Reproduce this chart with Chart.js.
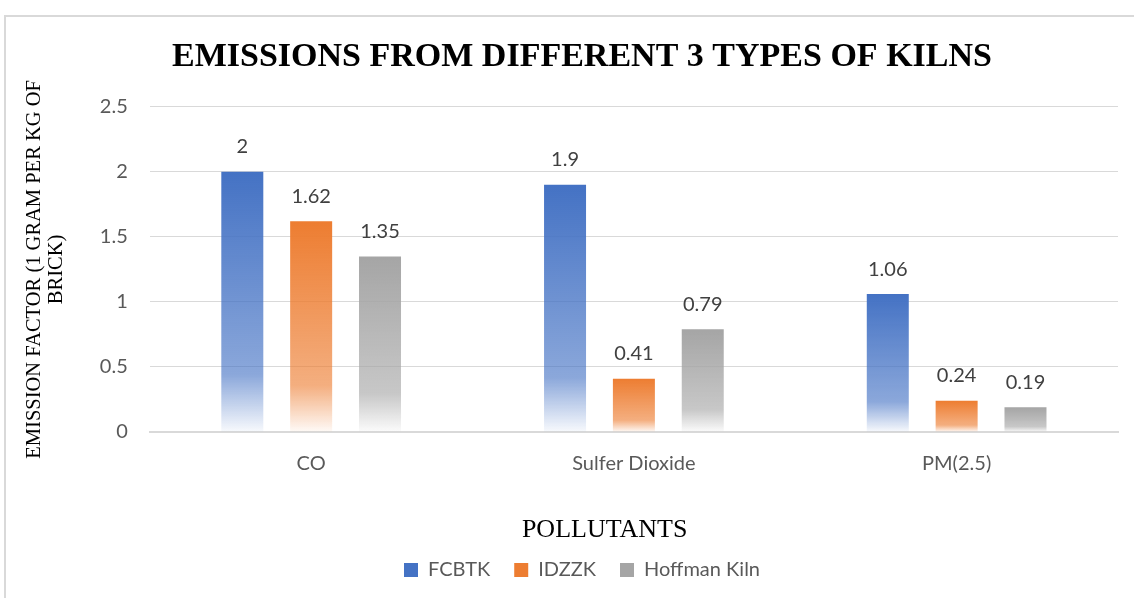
<!DOCTYPE html>
<html>
<head>
<meta charset="utf-8">
<script src="https://cdn.jsdelivr.net/npm/chart.js@4.4.0/dist/chart.umd.min.js"></script>
<style>
  html, body { margin: 0; padding: 0; background: #fff; }
  #wrap { position: relative; width: 1134px; height: 598px; }
  #frame { position: absolute; left: 4px; top: 15px; right: -2px; bottom: -2px;
           border-top: 2px solid #d9d9d9; border-left: 2px solid #d9d9d9; }
  canvas { position: absolute; left: 0; top: 0; }
</style>
</head>
<body>
<div id="wrap">
  <div id="frame"></div>
  <canvas id="kiln-chart" width="1134" height="598"></canvas>
</div>
<script>
var pollutants = ['CO', 'Sulfer Dioxide', 'PM(2.5)'];
var fcbtk = [2, 1.9, 1.06];
var idzzk = [1.62, 0.41, 0.24];
var hoffman = [1.35, 0.79, 0.19];
var yTicks = [0, 0.5, 1, 1.5, 2, 2.5];

var colors = {
  'FCBTK': [68, 114, 196],
  'IDZZK': [237, 125, 49],
  'Hoffman Kiln': [165, 165, 165]
};

function rgb(c) { return 'rgb(' + c.join(',') + ')'; }

function fade(c) {
  return function (ctx) {
    var chart = ctx.chart;
    if (ctx.type !== 'data' || !chart.chartArea) return rgb(c);
    var y = chart.scales.y;
    var top = y.getPixelForValue(ctx.raw);
    var bottom = y.getPixelForValue(0);
    if (!isFinite(top) || bottom - top < 1) return rgb(c);
    var g = chart.ctx.createLinearGradient(0, top, 0, bottom);
    var s = c.join(',');
    g.addColorStop(0, 'rgba(' + s + ',1)');
    g.addColorStop(0.78, 'rgba(' + s + ',0.62)');
    g.addColorStop(1, 'rgba(' + s + ',0.04)');
    return g;
  };
}

// value labels above the bars
var barLabels = {
  id: 'barLabels',
  afterDatasetsDraw: function (chart) {
    var c = chart.ctx;
    c.save();
    c.font = '20px Lato';
    c.fillStyle = '#404040';
    c.textAlign = 'center';
    c.textBaseline = 'middle';
    chart.data.datasets.forEach(function (ds, i) {
      chart.getDatasetMeta(i).data.forEach(function (bar, j) {
        c.fillText(String(ds.data[j]), bar.x, bar.y - 25);
      });
    });
    c.restore();
  }
};

var kiln = document.getElementById('kiln-chart');
var barChart = new Chart(kiln, {
  type: 'bar',
  data: {
    labels: pollutants,
    datasets: [
      { label: 'FCBTK', data: fcbtk, backgroundColor: fade(colors['FCBTK']) },
      { label: 'IDZZK', data: idzzk, backgroundColor: fade(colors['IDZZK']) },
      { label: 'Hoffman Kiln', data: hoffman, backgroundColor: fade(colors['Hoffman Kiln']) }
    ]
  },
  options: {
    responsive: false,
    animation: false,
    datasets: { bar: { categoryPercentage: 0.64, barPercentage: 0.61 } },
    layout: { padding: { left: 46, right: 16, top: 37, bottom: 8 } },
    plugins: {
      title: {
        display: true,
        text: 'EMISSIONS FROM DIFFERENT 3 TYPES OF KILNS',
        color: '#000',
        font: { family: 'Liberation Serif', size: 34, weight: 'bold' },
        padding: { top: 0, bottom: 29 }
      },
      legend: {
        position: 'bottom',
        labels: {
          color: '#595959',
          font: { family: 'Lato', size: 20 },
          boxWidth: 14,
          boxHeight: 14,
          padding: 24,
          generateLabels: function (chart) {
            return chart.data.datasets.map(function (ds, i) {
              return {
                text: ds.label,
                fillStyle: rgb(colors[ds.label]),
                strokeStyle: 'rgba(0,0,0,0)',
                lineWidth: 0,
                fontColor: '#595959',
                hidden: false,
                datasetIndex: i
              };
            });
          }
        }
      },
      tooltip: { enabled: false }
    },
    scales: {
      x: {
        grid: { display: false },
        border: { color: '#d9d9d9', width: 2 },
        ticks: { color: '#595959', font: { family: 'Lato', size: 20 }, padding: 12 },
        title: {
          display: true,
          text: 'POLLUTANTS         ',
          color: '#000',
          font: { family: 'Liberation Serif', size: 26, lineHeight: 1 },
          padding: { top: 29, bottom: -7 }
        }
      },
      y: {
        min: 0,
        max: 2.5,
        afterBuildTicks: function (axis) {
          axis.ticks = yTicks.map(function (v) { return { value: v }; });
        },
        grid: { color: '#d9d9d9', drawTicks: false },
        border: { display: false },
        ticks: {
          color: '#595959',
          font: { family: 'Lato', size: 20 },
          padding: 22,
          callback: function (v) { return String(v); }
        },
        title: {
          display: true,
          text: ['EMISSION FACTOR (1 GRAM PER KG OF', 'BRICK)'],
          color: '#000',
          font: { family: 'Liberation Serif', size: 20.5, lineHeight: 1.07 },
          padding: { top: -22, bottom: 10 }
        }
      }
    }
  },
  plugins: [barLabels]
});
</script>
</body>
</html>
